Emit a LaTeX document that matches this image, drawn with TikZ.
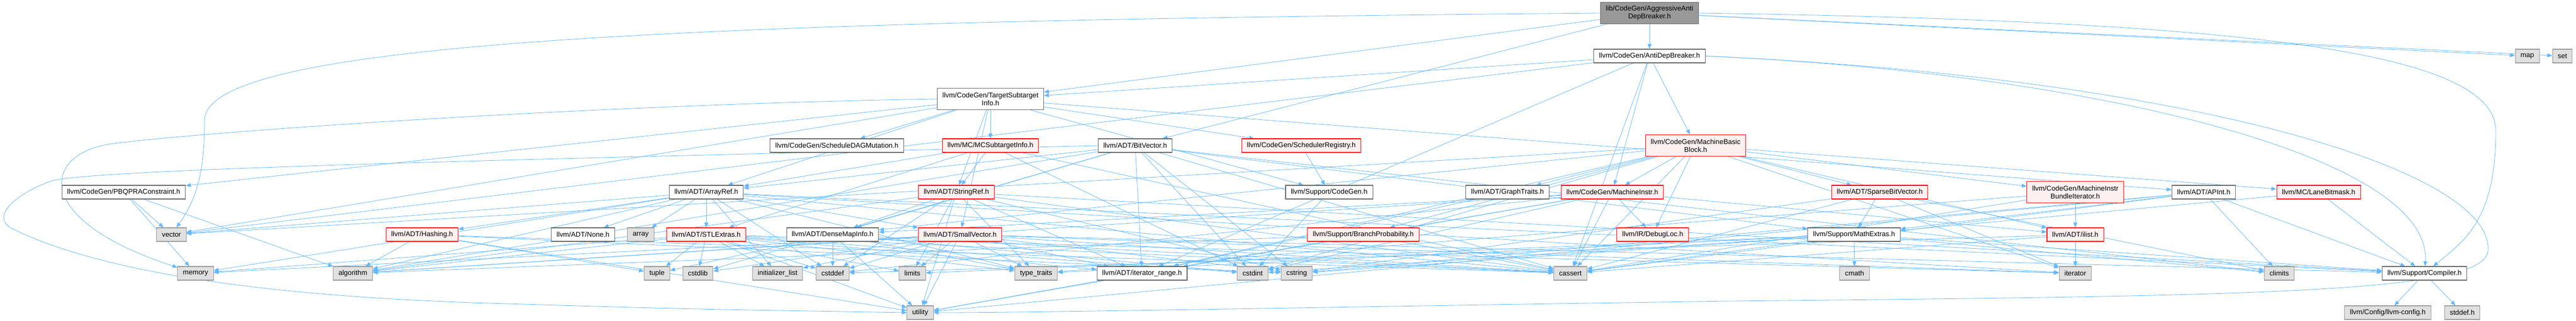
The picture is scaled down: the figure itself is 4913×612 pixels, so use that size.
\documentclass[tikz,border=0pt]{standalone}
\usepackage{fontspec}
\setmainfont{Liberation Sans}
\usepackage{tikz}
\usepackage{xcolor}
\usetikzlibrary{shapes,arrows.meta,positioning}
\definecolor{edgeblue}{HTML}{63B8FF}
\definecolor{boxgrey}{HTML}{E0E0E0}
\definecolor{rimgrey}{HTML}{999999}
\definecolor{rimdark}{HTML}{666666}
\definecolor{rimred}{HTML}{FF0000}
\definecolor{boxpink}{HTML}{FFF0F0}
\definecolor{topgrey}{HTML}{999999}
\pgfdeclarelayer{bg}
\pgfsetlayers{bg,main}
\tikzstyle{arrow} = [
    draw=edgeblue,
    line width=0.6pt,
    -{Triangle[length=7pt,width=5.5pt]}
]
\tikzstyle{hdr} = [
    rectangle,
    draw=rimdark,
    fill=white,
    line width=0.8pt,
    minimum height=19.5pt,
    inner xsep=7.5pt,
    inner ysep=2pt,
    align=center,
    font=\fontsize{10}{11.2}\selectfont
]
\tikzstyle{syshdr} = [hdr, draw=rimgrey, fill=boxgrey]
\tikzstyle{parthdr} = [hdr, draw=rimred, fill=boxpink]
\tikzstyle{mainhdr} = [hdr, fill=topgrey]
\tikzstyle{twoline} = [minimum height=31pt]

\begin{document}
\begin{tikzpicture}[x=0.75pt, y=-0.75pt]
    \useasboundingbox (0,0) rectangle (4913,612);
    % rows of headers
    \node[mainhdr, twoline] (aadb) at (3146,25) {lib/CodeGen/AggressiveAnti\\DepBreaker.h};
    \node[hdr] (adb) at (3146,107) {llvm/CodeGen/AntiDepBreaker.h};
    \node[syshdr] (map) at (4820,107) {map};
    \node[syshdr] (set) at (4887,107) {set};
    \node[hdr, twoline] (tsi) at (1889,189) {llvm/CodeGen/TargetSubtarget\\Info.h};
    \node[hdr] (sdm) at (1596,278) {llvm/CodeGen/ScheduleDAGMutation.h};
    \node[parthdr] (mcsti) at (1889,278) {llvm/MC/MCSubtargetInfo.h};
    \node[hdr] (bitvec) at (2165,278) {llvm/ADT/BitVector.h};
    \node[parthdr] (schedreg) at (2482,278) {llvm/CodeGen/SchedulerRegistry.h};
    \node[parthdr, twoline] (mbb) at (3234,278) {llvm/CodeGen/MachineBasic\\Block.h};
    \node[hdr] (pbqp) at (236,367) {llvm/CodeGen/PBQPRAConstraint.h};
    \node[hdr] (arrayref) at (1347,367) {llvm/ADT/ArrayRef.h};
    \node[parthdr] (stringref) at (1824,367) {llvm/ADT/StringRef.h};
    \node[hdr] (cgen) at (2535,367) {llvm/Support/CodeGen.h};
    \node[hdr] (graphtr) at (2875,367) {llvm/ADT/GraphTraits.h};
    \node[parthdr] (minstr) at (3075,367) {llvm/CodeGen/MachineInstr.h};
    \node[parthdr] (sparsebv) at (3585,367) {llvm/ADT/SparseBitVector.h};
    \node[parthdr, twoline] (mibi) at (3958,367) {llvm/CodeGen/MachineInstr\\BundleIterator.h};
    \node[hdr] (apint) at (4203,367) {llvm/ADT/APInt.h};
    \node[parthdr] (lanebm) at (4422,367) {llvm/MC/LaneBitmask.h};
    \node[syshdr] (vector) at (327,448) {vector};
    \node[parthdr] (hashing) at (805,448) {llvm/ADT/Hashing.h};
    \node[hdr] (none) at (1112,448) {llvm/ADT/None.h};
    \node[syshdr] (array) at (1222,448) {array};
    \node[parthdr] (stlext) at (1347,448) {llvm/ADT/STLExtras.h};
    \node[hdr] (dmi) at (1588,448) {llvm/ADT/DenseMapInfo.h};
    \node[parthdr] (smallvec) at (1831,448) {llvm/ADT/SmallVector.h};
    \node[parthdr] (branchp) at (2600,448) {llvm/Support/BranchProbability.h};
    \node[parthdr] (debugloc) at (3152,448) {llvm/IR/DebugLoc.h};
    \node[hdr] (mathext) at (3536,448) {llvm/Support/MathExtras.h};
    \node[parthdr] (ilist) at (3958,448) {llvm/ADT/ilist.h};
    \node[syshdr] (memory) at (373,522) {memory};
    \node[syshdr] (algorithm) at (673,522) {algorithm};
    \node[syshdr] (tuple) at (1253,522) {tuple};
    \node[syshdr] (cstdlib) at (1331,522) {cstdlib};
    \node[syshdr] (initlist) at (1483,522) {initializer\_list};
    \node[syshdr] (cstddef) at (1588,522) {cstddef};
    \node[syshdr] (limits) at (1740,522) {limits};
    \node[syshdr] (typetr) at (1976,522) {type\_traits};
    \node[hdr] (itrange) at (2178,522) {llvm/ADT/iterator\_range.h};
    \node[syshdr] (cstdint) at (2389,522) {cstdint};
    \node[syshdr] (cstring) at (2473,522) {cstring};
    \node[syshdr] (cassert) at (2995,522) {cassert};
    \node[syshdr] (cmath) at (3537,522) {cmath};
    \node[syshdr] (iterator) at (3958,522) {iterator};
    \node[syshdr] (climits) at (4347,522) {climits};
    \node[hdr] (compiler) at (4624,522) {llvm/Support/Compiler.h};
    \node[syshdr] (utility) at (1755,597) {utility};
    \node[syshdr] (llvmcfg) at (4554,597) {llvm/Config/llvm-config.h};
    \node[syshdr] (stddef) at (4696,597) {stddef.h};
    % include edges
    \begin{pgfonlayer}{bg}
    \foreach \dst in {adb,bitvec,tsi,map,set}
        \draw[arrow] (aadb) -- (\dst);
    \draw[arrow] (aadb.west) .. controls (1300,40) and (390,80) .. (390,230)
        .. controls (390,330) and (375,380) .. (vector);
    \draw[arrow] (aadb.east) .. controls (4300,40) and (4760,100) .. (4760,250)
        .. controls (4760,420) and (4700,460) .. (compiler);
    \foreach \dst in {itrange,mbb,minstr,tsi,cassert,vector}
        \draw[arrow] (adb) -- (\dst);
    \draw[arrow] (adb.east) .. controls (4000,140) and (4640,300) .. (compiler);
    \draw[arrow] (adb.east) .. controls (4200,150) and (4760,330) .. (4745,480)
        .. controls (4735,560) and (4300,565) .. (3300,575)
        .. controls (2600,585) and (2000,597) .. (utility.east);
    \foreach \dst in {apint,arrayref,smallvec,stringref,pbqp,sdm,schedreg,mcsti,cgen,vector}
        \draw[arrow] (tsi) -- (\dst);
    \draw[arrow] (tsi.west) .. controls (1100,200) and (350,255) .. (210,275)
        .. controls (80,295) and (60,420) .. (memory);
    \foreach \dst in {algorithm,memory,vector}
        \draw[arrow] (pbqp) -- (\dst);
    \foreach \dst in {arrayref,stlext,stringref,cassert,cstdint}
        \draw[arrow] (mcsti) -- (\dst);
    \foreach \dst in {arrayref,dmi,itrange,mathext,algorithm,cassert,climits,cstdint,cstdlib,cstring}
        \draw[arrow] (bitvec) -- (\dst);
    \draw[arrow] (bitvec.west) .. controls (1200,300) and (200,320) .. (100,345)
        .. controls (40,365) and (-20,410) .. (20,435)
        .. controls (150,500) and (400,560) .. (900,578)
        .. controls (1300,590) .. (utility.west);
    \draw[arrow] (schedreg) -- (cgen);
    \draw[arrow] (cgen) -- (cstdint);
    \foreach \dst in {dmi,graphtr,sparsebv,ilist,itrange,minstr,mibi,debugloc,lanebm,branchp,cassert,cstdint,iterator,vector}
        \draw[arrow] (mbb) -- (\dst);
    \foreach \dst in {dmi,ilist,itrange,debugloc,algorithm,cassert,cstddef,cstdint,utility}
        \draw[arrow] (minstr) -- (\dst);
    \foreach \dst in {dmi,itrange,compiler,algorithm,cassert,cstddef,cstring,limits,typetr,utility}
        \draw[arrow] (stringref) -- (\dst);
    \foreach \dst in {hashing,none,stlext,smallvec,compiler,algorithm,array,cassert,cstddef,initlist,iterator,memory,typetr,vector}
        \draw[arrow] (arrayref) -- (\dst);
    \foreach \dst in {algorithm,cassert,cstring,tuple,utility}
        \draw[arrow] (hashing) -- (\dst);
    \foreach \dst in {itrange,algorithm,cassert,cstddef,cstdint,cstdlib,initlist,iterator,limits,memory,tuple,typetr,utility}
        \draw[arrow] (stlext) -- (\dst);
    \foreach \dst in {cassert,cstddef,cstdint,tuple,typetr,utility}
        \draw[arrow] (dmi) -- (\dst);
    \foreach \dst in {itrange,compiler,algorithm,cassert,cstddef,cstdlib,cstring,initlist,iterator,limits,memory,typetr,utility}
        \draw[arrow] (smallvec) -- (\dst);
    \draw[arrow] (itrange) -- (utility);
    \draw[arrow] (graphtr) -- (itrange);
    \foreach \dst in {algorithm,cassert}
        \draw[arrow] (branchp) -- (\dst);
    \foreach \dst in {mathext,cassert,climits,cstring,iterator}
        \draw[arrow] (sparsebv) -- (\dst);
    \foreach \dst in {compiler,cmath,cassert,climits,cstdint,cstring,limits,typetr}
        \draw[arrow] (mathext) -- (\dst);
    \foreach \dst in {ilist,iterator,cassert,typetr}
        \draw[arrow] (mibi) -- (\dst);
    \foreach \dst in {iterator,cassert,cstddef}
        \draw[arrow] (ilist) -- (\dst);
    \foreach \dst in {compiler,mathext,cassert,climits,cstring,utility}
        \draw[arrow] (apint) -- (\dst);
    \foreach \dst in {compiler,mathext}
        \draw[arrow] (lanebm) -- (\dst);
    \foreach \dst in {llvmcfg,stddef}
        \draw[arrow] (compiler) -- (\dst);
    \end{pgfonlayer}
\end{tikzpicture}
\end{document}
